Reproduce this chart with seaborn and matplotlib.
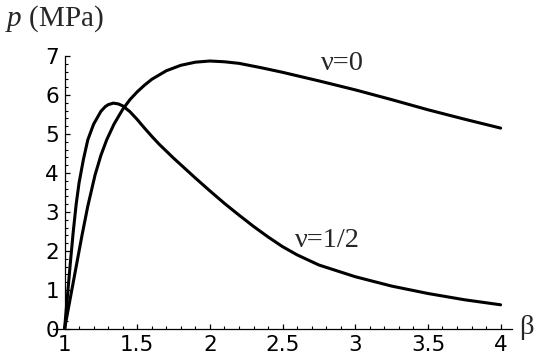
import numpy as np
import pandas as pd
import seaborn as sns
import matplotlib.pyplot as plt
from matplotlib.ticker import MultipleLocator

# values
beta_nu0 = [1.0, 1.04, 1.08, 1.12, 1.16, 1.21, 1.25, 1.29, 1.34, 1.40, 1.45, 1.50,
            1.55, 1.60, 1.70, 1.80, 1.90, 2.00, 2.10, 2.20, 2.35, 2.50, 2.75, 3.00,
            3.25, 3.50, 3.75, 4.00]
p_nu0 = [0.0, 0.80, 1.60, 2.40, 3.15, 3.95, 4.45, 4.85, 5.25, 5.63, 5.88, 6.08,
         6.25, 6.40, 6.62, 6.76, 6.84, 6.87, 6.85, 6.81, 6.70, 6.58, 6.36, 6.13,
         5.88, 5.62, 5.38, 5.15]

beta_nu_half = [1.0, 1.02, 1.04, 1.06, 1.08, 1.10, 1.13, 1.16, 1.20, 1.25, 1.28,
                1.30, 1.335, 1.37, 1.40, 1.45, 1.50, 1.55, 1.60, 1.65, 1.70,
                1.75, 1.80, 1.85, 1.90, 2.00, 2.10, 2.20, 2.30, 2.40, 2.50,
                2.60, 2.75, 3.00, 3.25, 3.50, 3.75, 4.00]
p_nu_half = [0.0, 0.85, 1.70, 2.50, 3.20, 3.75, 4.35, 4.85, 5.25, 5.58, 5.70,
             5.75, 5.79, 5.77, 5.72, 5.57, 5.37, 5.15, 4.94, 4.74, 4.56,
             4.38, 4.21, 4.04, 3.87, 3.54, 3.22, 2.92, 2.63, 2.36, 2.11,
             1.90, 1.64, 1.34, 1.10, 0.91, 0.75, 0.62]

curve_labels = ["ν=0", "ν=1/2"]
x_ticks = [1, 1.5, 2, 2.5, 3, 3.5, 4]
x_tick_labels = ["1", "1.5", "2", "2.5", "3", "3.5", "4"]
y_ticks = [0, 1, 2, 3, 4, 5, 6, 7]

df = pd.concat([
    pd.DataFrame({"beta": beta_nu0, "p": p_nu0, "nu": curve_labels[0]}),
    pd.DataFrame({"beta": beta_nu_half, "p": p_nu_half, "nu": curve_labels[1]}),
])

sns.set_style("ticks")
plt.rcParams["font.family"] = ["DejaVu Sans"]
plt.rcParams["mathtext.fontset"] = "custom"
plt.rcParams["mathtext.it"] = "Liberation Serif:italic"
plt.rcParams["mathtext.rm"] = "Liberation Serif"

fig = plt.figure(figsize=(5.4, 3.64), dpi=100)
ax = fig.add_axes([0.098, 0.0962, 0.8506, 0.7555])

sns.lineplot(data=df, x="beta", y="p", units="nu", estimator=None, sort=False,
             color="black", linewidth=2.2, ax=ax, legend=False)

ax.set_xlim(0.92, 4.08)
ax.set_ylim(0, 7.05)
ax.spines["left"].set_position(("data", 1))
ax.spines["left"].set_bounds(0, 7)
ax.spines["right"].set_visible(False)
ax.spines["top"].set_visible(False)
for s in ("left", "bottom"):
    ax.spines[s].set_linewidth(0.9)
    ax.spines[s].set_color("black")

ax.set_xticks(x_ticks)
ax.set_xticklabels(x_tick_labels)
ax.set_yticks(y_ticks)
ax.xaxis.set_minor_locator(MultipleLocator(0.1))
ax.yaxis.set_minor_locator(MultipleLocator(0.2))
ax.tick_params(which="major", direction="in", length=3.5, width=0.9,
               labelsize=15.5, colors="black", pad=4)
ax.tick_params(which="minor", direction="in", length=2, width=0.8, colors="black")
ax.set_xlabel("")
ax.set_ylabel("")

serif = "Liberation Serif"
ax.text(2.915, 6.80, curve_labels[0], fontsize=20.5, family=serif, ha="center", va="center")
ax.text(2.812, 2.28, curve_labels[1], fontsize=20.5, family=serif, ha="center", va="center")

fig.text(5 / 540, (364 - 26) / 364, "$p$ (MPa)", fontsize=21, family=serif,
         ha="left", va="baseline")
fig.text(519 / 540, (364 - 334) / 364, "β", fontsize=20.5, family=serif,
         ha="left", va="baseline")

fig.savefig("out.png", dpi=100)
